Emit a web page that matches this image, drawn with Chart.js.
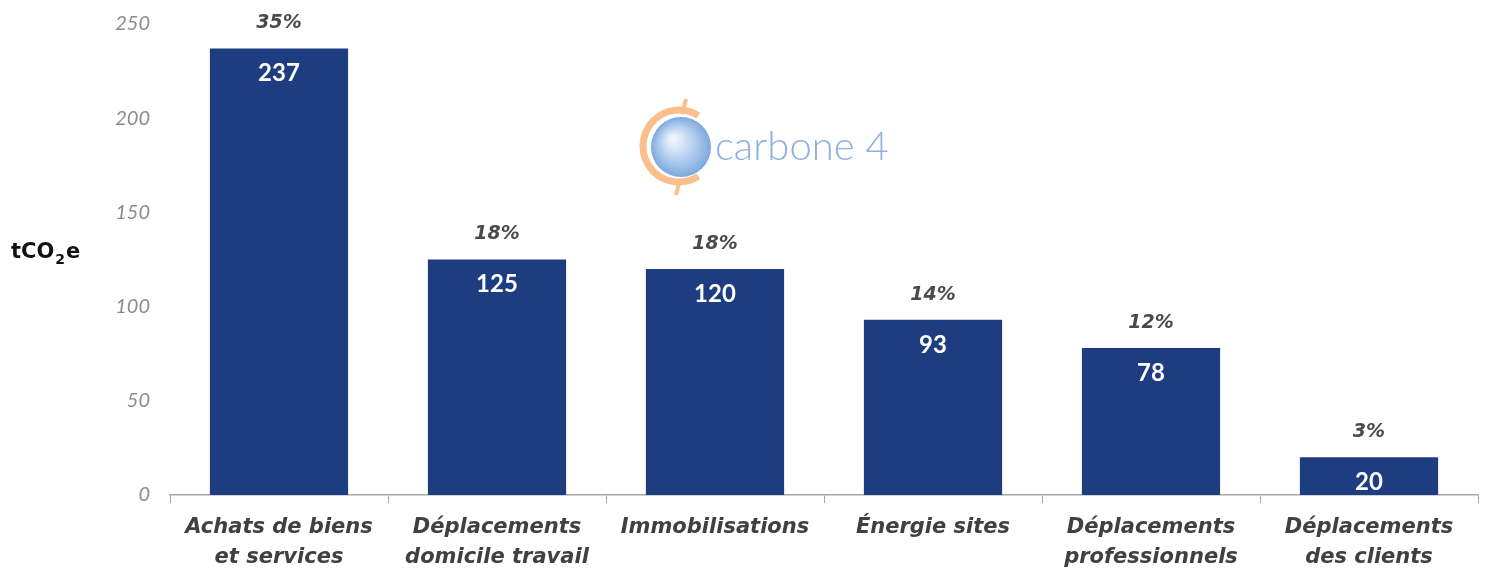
<!DOCTYPE html>
<html>
<head>
<meta charset="utf-8">
<script src="https://cdn.jsdelivr.net/npm/chart.js@4.4.1/dist/chart.umd.min.js"></script>
<style>
  html, body { margin: 0; padding: 0; background: #fff; }
  #wrap { width: 1485px; height: 572px; position: relative; }
</style>
</head>
<body>
<div id="wrap"><canvas id="c"></canvas></div>
<script>
// --- données --- //
const categories = [
  ["Achats de biens", "et services"],
  ["Déplacements", "domicile travail"],
  ["Immobilisations"],
  ["Énergie sites"],
  ["Déplacements", "professionnels"],
  ["Déplacements", "des clients"]
];
const emissions = [237, 125, 120, 93, 78, 20];
const shares = ["35%", "18%", "18%", "14%", "12%", "3%"];
const yTicks = [0, 50, 100, 150, 200, 250];

const FONT = "Lato, 'Open Sans', sans-serif";
const WIDE = "'DejaVu Sans', sans-serif";

// étiquettes : valeur dans la barre, pourcentage au-dessus
const barLabels = {
  id: "barLabels",
  afterDatasetsDraw(chart) {
    const ctx = chart.ctx;
    const meta = chart.getDatasetMeta(0);
    ctx.save();
    ctx.textAlign = "center";
    ctx.textBaseline = "middle";
    meta.data.forEach((bar, i) => {
      ctx.fillStyle = "#ffffff";
      ctx.font = "bold 24px " + FONT;
      ctx.fillText(String(emissions[i]), bar.x, bar.y + 25);
      ctx.fillStyle = "#4a4a4a";
      ctx.font = "italic bold 19px " + WIDE;
      ctx.fillText(shares[i], bar.x, bar.y - 25);
    });
    // unité
    ctx.textAlign = "left";
    ctx.fillStyle = "#111";
    ctx.font = "bold 21px " + WIDE;
    ctx.fillText("tCO", 11, 253);
    const w = ctx.measureText("tCO").width;
    ctx.font = "bold 14px " + WIDE;
    ctx.fillText("2", 11 + w + 1, 260);
    const w2 = ctx.measureText("2").width;
    ctx.font = "bold 21px " + WIDE;
    ctx.fillText("e", 11 + w + w2 + 2, 253);
    ctx.restore();
  }
};

// logo carbone 4
const logo = {
  id: "logo",
  beforeDatasetsDraw(chart) {
    const ctx = chart.ctx;
    const cx = 681, cy = 147, r = 30;
    ctx.save();
    // anneau orange
    ctx.strokeStyle = "#f9bf8c";
    ctx.lineWidth = 7;
    ctx.beginPath();
    ctx.arc(cx - 2, cy - 1, r + 6, Math.PI * 0.32, Math.PI * 1.68);
    ctx.stroke();
    ctx.lineWidth = 4;
    ctx.beginPath();
    ctx.moveTo(cx + 5, cy - r - 18); ctx.lineTo(cx + 1, cy - r - 3);
    ctx.moveTo(cx - 1, cy + r + 3); ctx.lineTo(cx - 5, cy + r + 18);
    ctx.stroke();
    // globe
    const g = ctx.createRadialGradient(cx - 8, cy - 8, 3, cx, cy, r);
    g.addColorStop(0, "#eef4fc");
    g.addColorStop(0.6, "#a9c8ee");
    g.addColorStop(1, "#7ea9dc");
    ctx.fillStyle = g;
    ctx.beginPath();
    ctx.arc(cx, cy, r, 0, Math.PI * 2);
    ctx.fill();
    // texte
    ctx.fillStyle = "#8fb0e0";
    ctx.font = "300 40px " + FONT;
    ctx.textBaseline = "alphabetic";
    ctx.fillText("carbone 4", 715, 160);
    ctx.restore();
  }
};

new Chart(document.getElementById("c"), {
  type: "bar",
  data: {
    labels: categories,
    datasets: [{
      data: emissions,
      backgroundColor: "#1e3c80",
      categoryPercentage: 1,
      barPercentage: 0.634
    }]
  },
  options: {
    responsive: true,
    maintainAspectRatio: false,
    animation: false,
    layout: { padding: { top: 17, right: 7, left: 0, bottom: 0 } },
    plugins: { legend: { display: false }, tooltip: { enabled: false } },
    scales: {
      x: {
        grid: {
          display: true,
          drawOnChartArea: false,
          drawTicks: true,
          tickLength: 8,
          offset: true,
          color: "#a6a6a6"
        },
        border: { display: true, color: "#a6a6a6", width: 1.5 },
        ticks: {
          color: "#404040",
          font: { family: WIDE, size: 21, style: "italic", weight: "bold", lineHeight: 1.43 },
          padding: 10,
          maxRotation: 0,
          autoSkip: false
        },
        afterFit(scale) { scale.height = 77; }
      },
      y: {
        min: 0,
        max: 250,
        afterBuildTicks(scale) { scale.ticks = yTicks.map(v => ({ value: v })); },
        grid: { display: false },
        border: { display: false },
        ticks: {
          color: "#8c8c8c",
          font: { family: FONT, size: 20, style: "italic" },
          padding: 12
        },
        afterFit(scale) { scale.width = 170; }
      }
    }
  },
  plugins: [barLabels, logo]
});
</script>
</body>
</html>
